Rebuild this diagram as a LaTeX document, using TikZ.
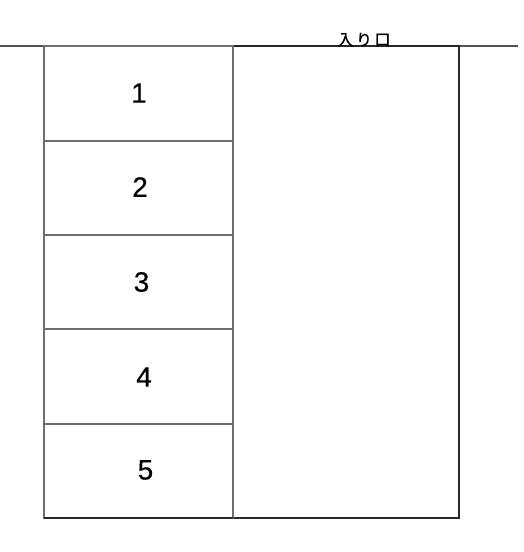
\documentclass[tikz,border=0pt]{standalone}
\usepackage{fontspec}
\setmainfont{Liberation Sans}
\newfontfamily\jpfont{Noto Sans CJK JP}[FakeBold=0.8]
\usepackage{xcolor}
\definecolor{boxgray}{RGB}{110,110,110}
\definecolor{walldark}{RGB}{40,40,40}
\tikzset{
	stall/.style={line width=1.3pt, color=boxgray},
	wall/.style={line width=1.3pt, color=walldark},
	stallnum/.style={font=\addfontfeature{FakeBold=0.4}\fontsize{28}{28}\selectfont}
}

\begin{document}
\begin{tikzpicture}[x=1pt, y=-1pt]
	\useasboundingbox (0,0) rectangle (524,552);
	
	\draw[wall, color=walldark!80] (0,46) -- (518,46);
	\draw[wall] (233,46) rectangle (459,518);
	
	\draw[stall] (44,46) rectangle (233,141);
	\draw[stall] (44,141) rectangle (233,235);
	\draw[stall] (44,235) rectangle (233,329);
	\draw[stall] (44,329) rectangle (233,424);
	\draw[stall] (44,424) rectangle (233,518);
	\draw[wall] (44,518) -- (233,518);
	
	\node[stallnum] (p1) at (139,93) {1};
	\node[stallnum] (p2) at (140,187) {2};
	\node[stallnum] (p3) at (141.5,282) {3};
	\node[stallnum] (p4) at (144,377) {4};
	\node[stallnum] (p5) at (145.5,470) {5};
	
	\node[font=\jpfont\fontsize{16}{16}\selectfont, anchor=south, inner sep=0pt] (entrance) at (364,47) {入\hspace{2.5pt}り\hspace{2.5pt}口};
	
\end{tikzpicture}
\end{document}
